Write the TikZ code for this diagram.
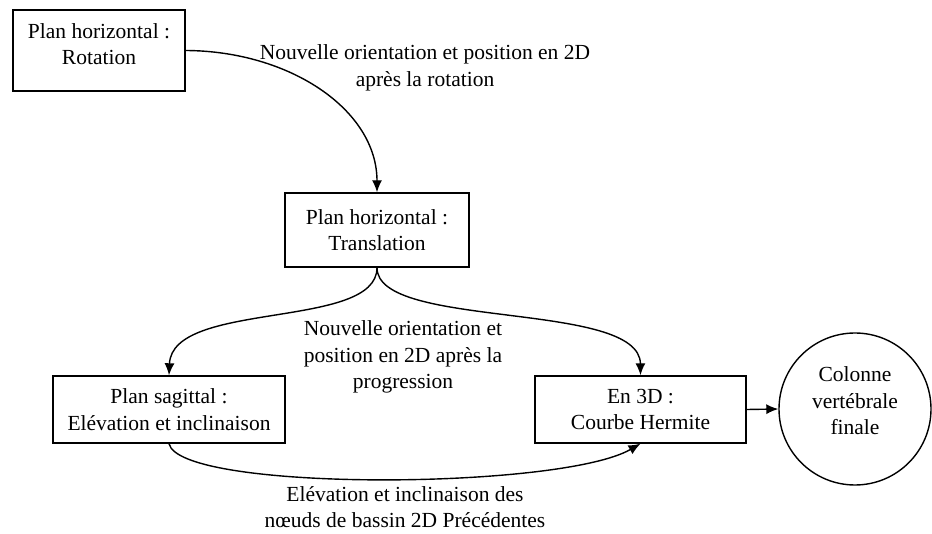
\documentclass[tikz,border=0pt]{standalone}
\usepackage{fontspec}
\setmainfont{Liberation Serif}
\usetikzlibrary{arrows.meta}
\begin{document}
\begin{tikzpicture}[x=1pt,y=-1pt,
  box/.style={draw,line width=1.4pt,rectangle,inner sep=0pt,align=center,font=\fontsize{21.5}{26.5}\selectfont},
  txt/.style={align=center,inner sep=0pt,font=\fontsize{21.5}{26.5}\selectfont},
  arr/.style={line width=1.4pt,-{Latex[length=12pt,width=10pt]}}]
\useasboundingbox (0,0) rectangle (932,534);
\node[box,minimum width=172pt,minimum height=81pt] (b1) at (99,50.5) {};
\node[txt] (b1t) at (99,44) {Plan horizontal :\\Rotation};
\node[box,minimum width=184pt,minimum height=74pt] (b2) at (377,230) {Plan horizontal :\\Translation};
\node[box,minimum width=232pt,minimum height=67pt] (b3) at (169,409.5) {Plan sagittal :\\Elévation et inclinaison};
\node[box,minimum width=211pt,minimum height=67pt] (b4) at (640.5,409.5) {En 3D :\\Courbe Hermite};
\node[draw,line width=1.4pt,circle,minimum size=152pt,inner sep=0pt] (c) at (855,409) {};
\node[txt] (ct) at (855,401) {Colonne\\vertébrale\\finale};
\node[txt] (l1) at (425,68) {Nouvelle orientation et position en 2D\\après la rotation};
\node[txt] (l2) at (403,357) {Nouvelle orientation et\\position en 2D après la\\progression};
\node[txt] (l3) at (405,507) {Elévation et inclinaison des\\nœuds de bassin 2D Précédentes};
\draw[arr] (b1.east) .. controls (290,51) and (377,110) .. (b2.north);
\draw[arr] (b2.south) .. controls (377,330) and (172,300) .. (b3.north);
\draw[arr] (b2.south) .. controls (377,330) and (640,300) .. (b4.north);
\draw[arr] (b3.south) .. controls (180,492) and (560,490) .. (b4.south);
\draw[arr] (b4.east) -- (c.west);
\end{tikzpicture}
\end{document}
